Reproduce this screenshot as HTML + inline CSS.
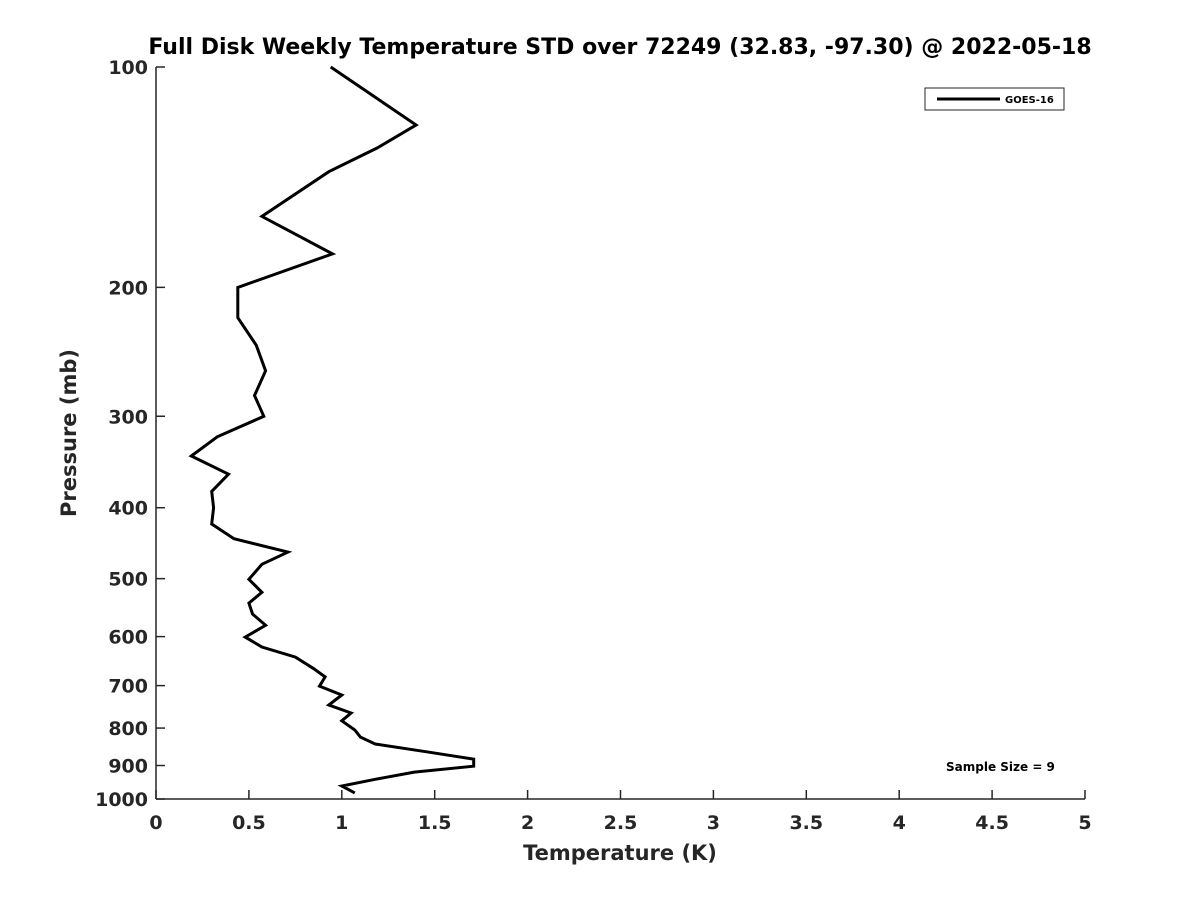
<!DOCTYPE html>
<html><head><meta charset="utf-8"><style>
body{margin:0;background:#fff;}
svg text{font-family:"DejaVu Sans","Liberation Sans",sans-serif;font-weight:bold;fill:#262626;}
</style></head><body>
<svg id="chart" width="1200" height="900" viewBox="0 0 1200 900" xmlns="http://www.w3.org/2000/svg">
<rect width="1200" height="900" fill="#fff"/>
<text x="620" y="54" text-anchor="middle" font-size="22" style="fill:#000">Full Disk Weekly Temperature STD over 72249 (32.83, -97.30) @ 2022-05-18</text>
<g id="axes"></g>
<text x="620" y="860" text-anchor="middle" font-size="21">Temperature (K)</text>
<text transform="translate(76,433) rotate(-90)" text-anchor="middle" font-size="21">Pressure (mb)</text>
<g>
<rect x="925" y="88" width="139" height="22" fill="#fff" stroke="#262626" stroke-width="1"/>
<line x1="937" y1="99" x2="1000" y2="99" stroke="#000" stroke-width="3"/>
<text x="1005" y="103" font-size="10" style="fill:#000">GOES-16</text>
</g>
<text x="946" y="771" font-size="12" style="fill:#000">Sample Size = 9</text>
</svg>
<script>
const pressures=[100,120,129,139,160,180,200,220,240,260,281,300,320,340,360,380,400,421,441,460,478,501,522,540,559,579,601,620,640,664,681,701,721,744,763,782,805,823,841,863,882,902,919,940,960,981];
const temps=[0.94,1.40,1.19,0.93,0.57,0.95,0.44,0.44,0.54,0.59,0.53,0.58,0.33,0.19,0.39,0.30,0.31,0.30,0.42,0.71,0.57,0.50,0.57,0.50,0.52,0.59,0.48,0.57,0.75,0.85,0.91,0.88,1.00,0.93,1.05,1.00,1.07,1.10,1.18,1.47,1.71,1.71,1.39,1.18,1.00,1.07];
const xTicks=[0,0.5,1,1.5,2,2.5,3,3.5,4,4.5,5];
const yTicks=[100,200,300,400,500,600,700,800,900,1000];
const X0=156,X1=1085,Y0=67,Y1=799;
const NS="http://www.w3.org/2000/svg";
function xs(v){return X0+(v-0)/(5-0)*(X1-X0);}
function ys(p){return Y0+(Math.log10(p)-2)/(3-2)*(Y1-Y0);}
const svg=document.getElementById('chart');
const g=document.getElementById('axes');
function mk(t,a){const e=document.createElementNS(NS,t);for(const k in a)e.setAttribute(k,a[k]);return e;}
let ax=mk('line',{x1:X0,y1:Y0,x2:X0,y2:Y1,stroke:'#262626','stroke-width':1.5});


g.appendChild(ax);
let bx=mk('line',{x1:X0,y1:Y1,x2:X1,y2:Y1,stroke:'#262626','stroke-width':1.5});


g.appendChild(bx);
xTicks.forEach(v=>{
 const x=xs(v);
 const t=mk('line',{x1:x,y1:Y1,x2:x,y2:Y1-9,stroke:'#262626','stroke-width':1.5});
 
 
 g.appendChild(t);
 const l=mk('text',{x:x,y:Y1+30,'text-anchor':'middle','font-size':19});
 
 
 l.textContent=String(v);g.appendChild(l);
});
yTicks.forEach(p=>{
 const y=ys(p);
 const t=mk('line',{x1:X0,y1:y,x2:X0+9,y2:y,stroke:'#262626','stroke-width':1.5});
 
 
 g.appendChild(t);
 const l=mk('text',{x:X0-8,y:y+7,'text-anchor':'end','font-size':19});
 
 
 l.textContent=String(p);g.appendChild(l);
});
const pts=pressures.map((p,i)=>xs(temps[i]).toFixed(1)+','+ys(p).toFixed(1)).join(' ');
const line=mk('polyline',{points:pts,fill:'none',stroke:'#000','stroke-width':3,'stroke-linejoin':'miter'});


g.appendChild(line);
</script>
</body></html>
